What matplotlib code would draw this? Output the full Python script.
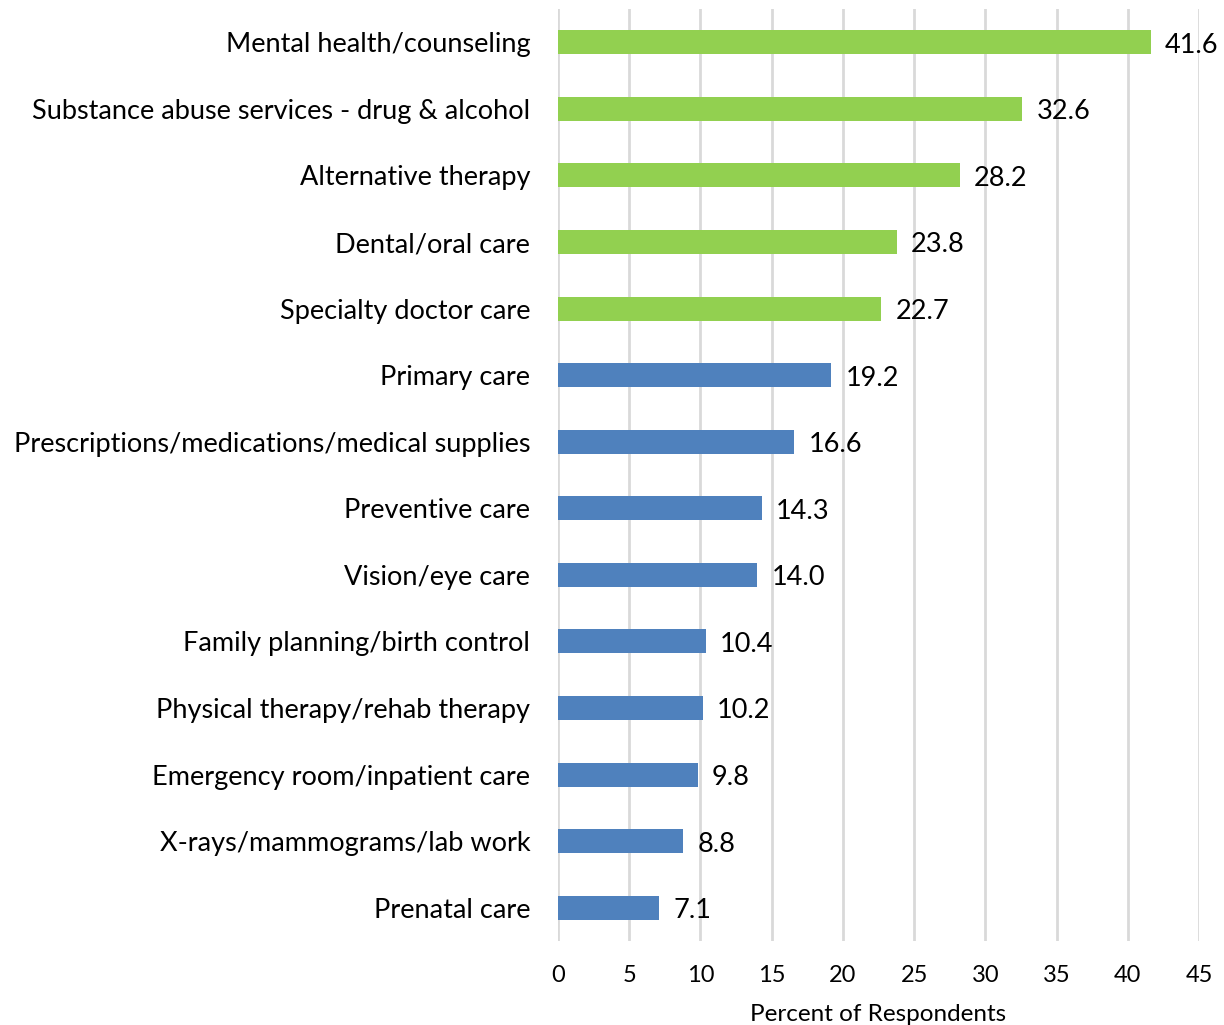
import matplotlib
matplotlib.use("Agg")
import matplotlib.pyplot as plt

categories = [
    "Mental health/counseling",
    "Substance abuse services - drug & alcohol",
    "Alternative therapy",
    "Dental/oral care",
    "Specialty doctor care",
    "Primary care",
    "Prescriptions/medications/medical supplies",
    "Preventive care",
    "Vision/eye care",
    "Family planning/birth control",
    "Physical therapy/rehab therapy",
    "Emergency room/inpatient care",
    "X-rays/mammograms/lab work",
    "Prenatal care",
]
values = [41.6, 32.6, 28.2, 23.8, 22.7, 19.2, 16.6, 14.3, 14.0, 10.4, 10.2, 9.8, 8.8, 7.1]
highlight = [True] * 5 + [False] * 9
xticks = [0, 5, 10, 15, 20, 25, 30, 35, 40, 45]

GREEN = "#92D050"
BLUE = "#4F81BD"

plt.rcParams['font.family'] = ['Lato', 'DejaVu Sans']

fig = plt.figure(figsize=(12.24, 10.25), dpi=100)
ax = fig.add_axes([558/1224, 1 - 941/1025, (1199 - 558)/1224, (941 - 9)/1025])

n = len(categories)
ypos = list(range(n))
colors = [GREEN if h else BLUE for h in highlight]
ax.barh(ypos, values, height=0.36, color=colors, zorder=3)
ax.set_ylim(n - 0.5, -0.5)
ax.set_xlim(0, 45)
ax.set_yticks(ypos)
ax.set_yticklabels(categories, fontsize=19.5)
ax.set_xticks(xticks)
ax.set_xticklabels([str(t) for t in xticks], fontsize=17)
ax.tick_params(axis='both', length=0)
ax.tick_params(axis='y', pad=20)
ax.tick_params(axis='x', pad=17)
ax.grid(axis='x', color='#D9D9D9', linewidth=2, zorder=0)
for s in ax.spines.values():
    s.set_visible(False)

for y, v in zip(ypos, values):
    ax.annotate(f"{v:.1f}", xy=(v, y), xytext=(14, -3), textcoords='offset pixels',
                va='center', ha='left', fontsize=19.5)

ax.set_xlabel("Percent of Respondents", fontsize=17.5, labelpad=13)

fig.savefig("out.png", dpi=100, facecolor='white')
